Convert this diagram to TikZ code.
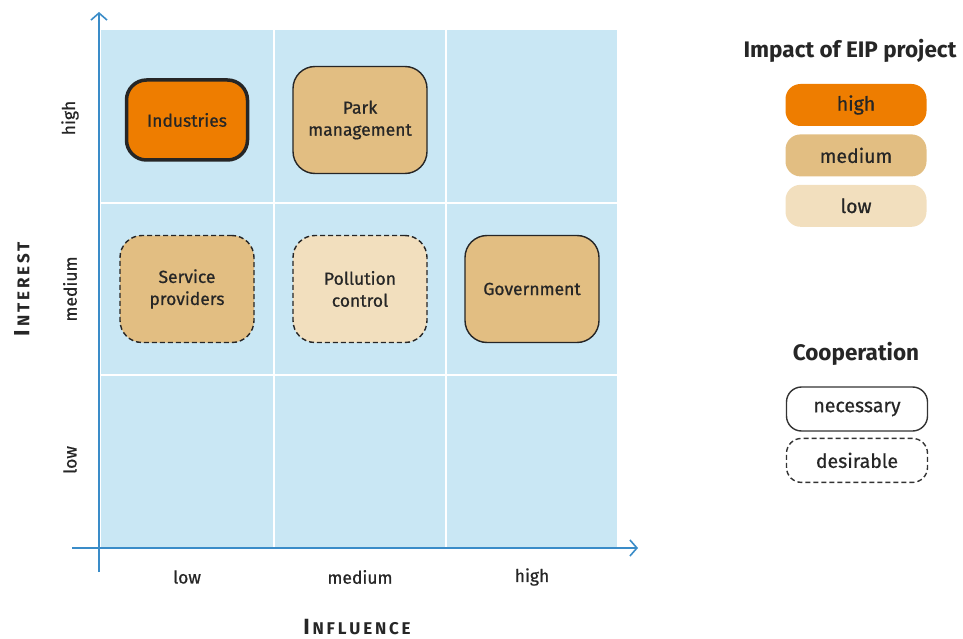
\documentclass[tikz,border=0pt]{standalone}
\usepackage{fontspec}
\setmainfont{Fira Sans}
\newfontfamily\medfont{Fira Sans}[FakeBold=0.7]
\usetikzlibrary{arrows.meta,positioning,calc}
\definecolor{gridblue}{HTML}{C9E7F4}
\definecolor{axisblue}{HTML}{3A8CC8}
\definecolor{imphigh}{HTML}{EE7D00}
\definecolor{impmed}{HTML}{E2BE82}
\definecolor{implow}{HTML}{F2DFBE}

\begin{document}
\begin{tikzpicture}[x=1pt,y=-1pt,>={Straight Barb[length=7pt,width=16pt]},
  txt/.style={font=\medfont\fontsize{17.5}{22}\selectfont,text=black!85},
  actor/.style={txt,draw=black!85,line width=1.4pt,rounded corners=22pt,minimum width=134pt,minimum height=107pt,align=center,inner sep=0pt},
  need/.style={actor},
  wish/.style={actor,dashed,dash pattern=on 5pt off 3pt},
  keybox/.style={txt,font=\medfont\fontsize{19.5}{22}\selectfont,rounded corners=15pt,minimum width=141pt,minimum height=42pt,inner sep=0pt},
  level/.style={txt},
  heading/.style={font=\fontsize{22.5}{26}\bfseries\selectfont,text=black!85},
  axistitle/.style={font=\bfseries,text=black!85}]
\useasboundingbox (0,0) rectangle (963,639);

\fill [gridblue] (101,30) rectangle (617,547);
\draw [white,line width=1.5pt] (274,30) -- (274,547) (446,30) -- (446,547)
  (101,203) -- (617,203) (101,375) -- (617,375);

\coordinate (ybot) at (99,572);
\coordinate (ytop) at (99,12);
\coordinate (xleft) at (72,548);
\coordinate (xright) at (638,548);
\draw [axisblue,line width=1.6pt,->] (ybot) -- (ytop);
\draw [axisblue,line width=1.6pt,->] (xleft) -- (xright);

\node [need,fill=imphigh,line width=3.5pt,minimum width=121pt,minimum height=80pt,rounded corners=20pt] (industries) at (187,120) {Industries};
\node [need,fill=impmed] (park) at (360,120) {Park\\management};
\node [wish,fill=impmed] (service) at (187,289) {Service\\providers};
\node [wish,fill=implow] (pollution) at (360,289) {Pollution\\control};
\node [need,fill=impmed] (government) at (532,289) {Government};

\node [level,rotate=90] (ihigh) at (70,118) {high};
\node [level,rotate=90] (imedium) at (70,289) {medium};
\node [level,rotate=90] (ilow) at (70,460) {low};
\node [level] (flow) at (187,577) {low};
\node [level] (fmedium) at (360,577) {medium};
\node [level] (fhigh) at (532,577) {high};

\node [axistitle,rotate=90] (interest) at (22,289)
  {{\fontsize{22}{24}\selectfont I}{\fontsize{17}{24}\selectfont\,N\,T\,E\,R\,E\,S\,T}};
\node [axistitle] (influence) at (357,627)
  {{\fontsize{22}{24}\selectfont I}{\fontsize{17}{24}\selectfont\,N\,F\,L\,U\,E\,N\,C\,E}};

\node [heading] (impact) at (850,51) {Impact of EIP project};
\node [keybox,fill=imphigh] (khigh) at (856,105) {high};
\node [keybox,fill=impmed,below=8pt of khigh] (kmedium) {medium};
\node [keybox,fill=implow,below=8pt of kmedium] (klow) {low};

\node [heading] (coop) at (856,354) {Cooperation};
\node [keybox,draw=black!80,line width=1.4pt,minimum height=44pt,fill=white] (knecessary) at (857,409) {necessary};
\node [keybox,draw=black!80,line width=1.4pt,minimum height=44pt,dashed,dash pattern=on 5pt off 3pt,below=6pt of knecessary] (kdesirable) {desirable};
\end{tikzpicture}
\end{document}
